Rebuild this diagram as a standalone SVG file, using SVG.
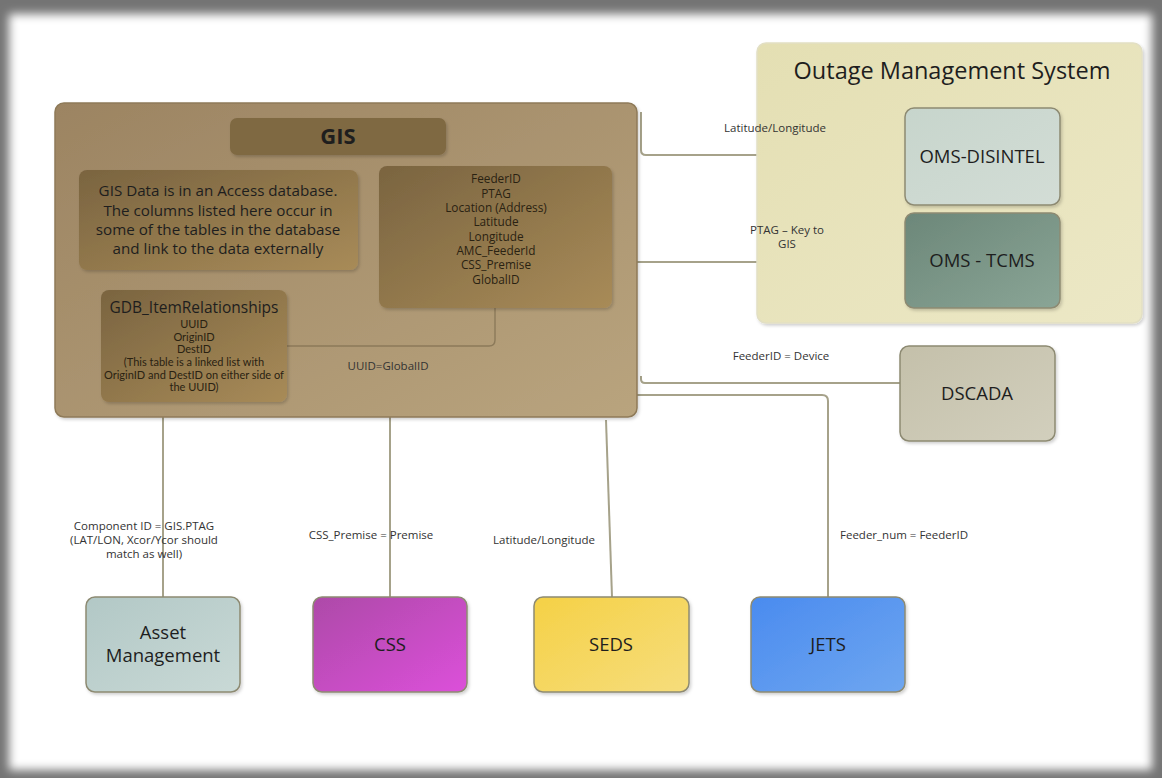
<svg xmlns="http://www.w3.org/2000/svg" width="1162" height="778" viewBox="0 0 1162 778">
  <defs>
    <filter id="edge" x="-5%" y="-5%" width="110%" height="110%">
      <feGaussianBlur stdDeviation="5"/>
    </filter>
    <filter id="shadow" x="-10%" y="-10%" width="125%" height="125%">
      <feDropShadow dx="1.5" dy="2" stdDeviation="1.5" flood-color="#000" flood-opacity="0.18"/>
    </filter>
    <linearGradient id="gisBg" x1="0" y1="0" x2="1" y2="1">
      <stop offset="0" stop-color="#9c8462"/>
      <stop offset="1" stop-color="#b9a47e"/>
    </linearGradient>
    <linearGradient id="gisInner" x1="0" y1="0" x2="1" y2="1">
      <stop offset="0" stop-color="#7a6440"/>
      <stop offset="1" stop-color="#a88b58"/>
    </linearGradient>
    <linearGradient id="omsBg" x1="0" y1="0" x2="1" y2="1">
      <stop offset="0" stop-color="#e4dfb3"/>
      <stop offset="1" stop-color="#ece8c6"/>
    </linearGradient>
    <linearGradient id="disintel" x1="0" y1="0" x2="1" y2="1">
      <stop offset="0" stop-color="#c7d5cc"/>
      <stop offset="1" stop-color="#d3ddd6"/>
    </linearGradient>
    <linearGradient id="tcms" x1="0" y1="0" x2="1" y2="1">
      <stop offset="0" stop-color="#6c8779"/>
      <stop offset="1" stop-color="#8aa596"/>
    </linearGradient>
    <linearGradient id="dscada" x1="0" y1="0" x2="1" y2="1">
      <stop offset="0" stop-color="#c4c0aa"/>
      <stop offset="1" stop-color="#d2cfbd"/>
    </linearGradient>
    <linearGradient id="asset" x1="0" y1="0" x2="1" y2="1">
      <stop offset="0" stop-color="#b2c8c6"/>
      <stop offset="1" stop-color="#c9d9d6"/>
    </linearGradient>
    <linearGradient id="css" x1="0" y1="0" x2="1" y2="1">
      <stop offset="0" stop-color="#ad4aa8"/>
      <stop offset="1" stop-color="#dc50da"/>
    </linearGradient>
    <linearGradient id="seds" x1="0" y1="0" x2="1" y2="1">
      <stop offset="0" stop-color="#f5d146"/>
      <stop offset="1" stop-color="#f6dd7c"/>
    </linearGradient>
    <linearGradient id="jets" x1="0" y1="0" x2="1" y2="1">
      <stop offset="0" stop-color="#4a8bef"/>
      <stop offset="1" stop-color="#6ea6f0"/>
    </linearGradient>
  </defs>
  <style>
    text { font-family: "Open Sans", Lato, "Liberation Sans", sans-serif; fill: #1e1e1e; text-anchor: middle; }
    .box { stroke: #8d8a72; stroke-width: 1.5; filter: url(#shadow); }
    .inner { stroke: none; filter: url(#shadow); }
    .node { font-size: 18.5px; }
    .note { font-size: 15.2px; }
    .lbl { font-size: 11.5px; fill: #333; }
    .fld { font-size: 11.8px; fill: #2a2212; }
    .small { font-family: Lato, "Open Sans", sans-serif; font-size: 11px; fill: #2a2212; }
    .conn { fill: none; stroke: #a6a28a; stroke-width: 2; }
    .link { fill: none; stroke: #8c7a5a; stroke-width: 1.4; }
  </style>

  <!-- page frame with soft grey edges -->
  <rect x="0" y="0" width="1162" height="778" fill="#747474"/>
  <rect x="9" y="14" width="1143" height="756" fill="#ffffff" filter="url(#edge)"/>

  <!-- connectors -->
  <g id="connectors">
    <path class="conn" d="M641 112 V150 Q641 155 646 155 H905"/>
    <path class="conn" d="M637 262 H905"/>
    <path class="conn" d="M641 376 V379 Q641 383 645 383 H900"/>
    <path class="conn" d="M637 395 H822 Q828 395 828 401 V597"/>
    <path class="conn" d="M606 420 L612 597"/>
    <path class="conn" d="M390 376 V597"/>
    <path class="conn" d="M163 402 V597"/>
  </g>

  <!-- GIS system -->
  <g id="gis">
    <rect x="55" y="103" width="582" height="314" rx="9" fill="url(#gisBg)" stroke="#8e7a58" stroke-width="1.5" filter="url(#shadow)"/>
    <path class="link" d="M495 308 V340 Q495 346 489 346 H287"/>
    <g id="gis-title">
      <rect class="inner" x="230" y="118" width="216" height="37" rx="7" fill="#7f6942"/>
      <text x="338" y="144" font-size="22" font-weight="bold">GIS</text>
    </g>
    <g id="gis-note">
      <rect class="inner" x="79" y="170" width="279" height="100" rx="8" fill="url(#gisInner)"/>
      <text class="note" x="218" y="196">GIS Data is in an Access database.</text>
      <text class="note" x="218" y="216">The columns listed here occur in</text>
      <text class="note" x="218" y="235">some of the tables in the database</text>
      <text class="note" x="218" y="254">and link to the data externally</text>
    </g>
    <g id="gis-fields">
      <rect class="inner" x="379" y="166" width="233" height="142" rx="8" fill="url(#gisInner)"/>
      <text class="fld" x="496" y="183">FeederID</text>
      <text class="fld" x="496" y="198">PTAG</text>
      <text class="fld" x="496" y="212">Location (Address)</text>
      <text class="fld" x="496" y="226">Latitude</text>
      <text class="fld" x="496" y="241">Longitude</text>
      <text class="fld" x="496" y="255">AMC_FeederId</text>
      <text class="fld" x="496" y="269">CSS_Premise</text>
      <text class="fld" x="496" y="284">GlobalID</text>
    </g>
    <g id="gdb-item-relationships">
      <rect class="inner" x="101" y="290" width="186" height="112" rx="8" fill="url(#gisInner)"/>
      <text x="194" y="313" font-size="15.5">GDB_ItemRelationships</text>
      <text class="small" x="194" y="328">UUID</text>
      <text class="small" x="194" y="341">OriginID</text>
      <text class="small" x="194" y="353">DestID</text>
      <text class="small" x="194" y="366">(This table is a linked list with</text>
      <text class="small" x="194" y="379">OriginID and DestID on either side of</text>
      <text class="small" x="194" y="391">the UUID)</text>
    </g>
    <text class="lbl" x="388" y="370">UUID=GlobalID</text>
  </g>

  <!-- Outage Management System -->
  <g id="oms">
    <rect x="757" y="43" width="385" height="280" rx="9" fill="url(#omsBg)" stroke="#e2dfc4" stroke-width="1.5" filter="url(#shadow)"/>
    <text x="952" y="79" font-size="23.5">Outage Management System</text>
  </g>
  <g id="oms-disintel">
    <rect class="box" x="905" y="108" width="155" height="97" rx="9" fill="url(#disintel)"/>
    <text class="node" x="982" y="163">OMS-DISINTEL</text>
  </g>
  <g id="oms-tcms">
    <rect class="box" x="905" y="213" width="155" height="95" rx="9" fill="url(#tcms)"/>
    <text class="node" x="982" y="267">OMS - TCMS</text>
  </g>

  <g id="dscada">
    <rect class="box" x="900" y="346" width="155" height="95" rx="9" fill="url(#dscada)"/>
    <text class="node" x="977" y="400">DSCADA</text>
  </g>

  <g id="asset-management">
    <rect class="box" x="86" y="597" width="154" height="95" rx="9" fill="url(#asset)"/>
    <text class="node" x="163" y="639">Asset</text>
    <text class="node" x="163" y="662">Management</text>
  </g>
  <g id="css">
    <rect class="box" x="313" y="597" width="154" height="95" rx="9" fill="url(#css)"/>
    <text class="node" x="390" y="651">CSS</text>
  </g>
  <g id="seds">
    <rect class="box" x="534" y="597" width="155" height="95" rx="9" fill="url(#seds)"/>
    <text class="node" x="611" y="651">SEDS</text>
  </g>
  <g id="jets">
    <rect class="box" x="751" y="597" width="154" height="95" rx="9" fill="url(#jets)"/>
    <text class="node" x="828" y="651">JETS</text>
  </g>

  <!-- connector labels -->
  <g id="labels">
    <text class="lbl" x="775" y="132">Latitude/Longitude</text>
    <text class="lbl" x="787" y="234">PTAG – Key to</text>
    <text class="lbl" x="787" y="248">GIS</text>
    <text class="lbl" x="781" y="360">FeederID = Device</text>
    <text class="lbl" x="144" y="530">Component ID = GIS.PTAG</text>
    <text class="lbl" x="144" y="544">(LAT/LON, Xcor/Ycor should</text>
    <text class="lbl" x="144" y="558">match as well)</text>
    <text class="lbl" x="371" y="539">CSS_Premise = Premise</text>
    <text class="lbl" x="544" y="544">Latitude/Longitude</text>
    <text class="lbl" x="904" y="539">Feeder_num = FeederID</text>
  </g>
</svg>
